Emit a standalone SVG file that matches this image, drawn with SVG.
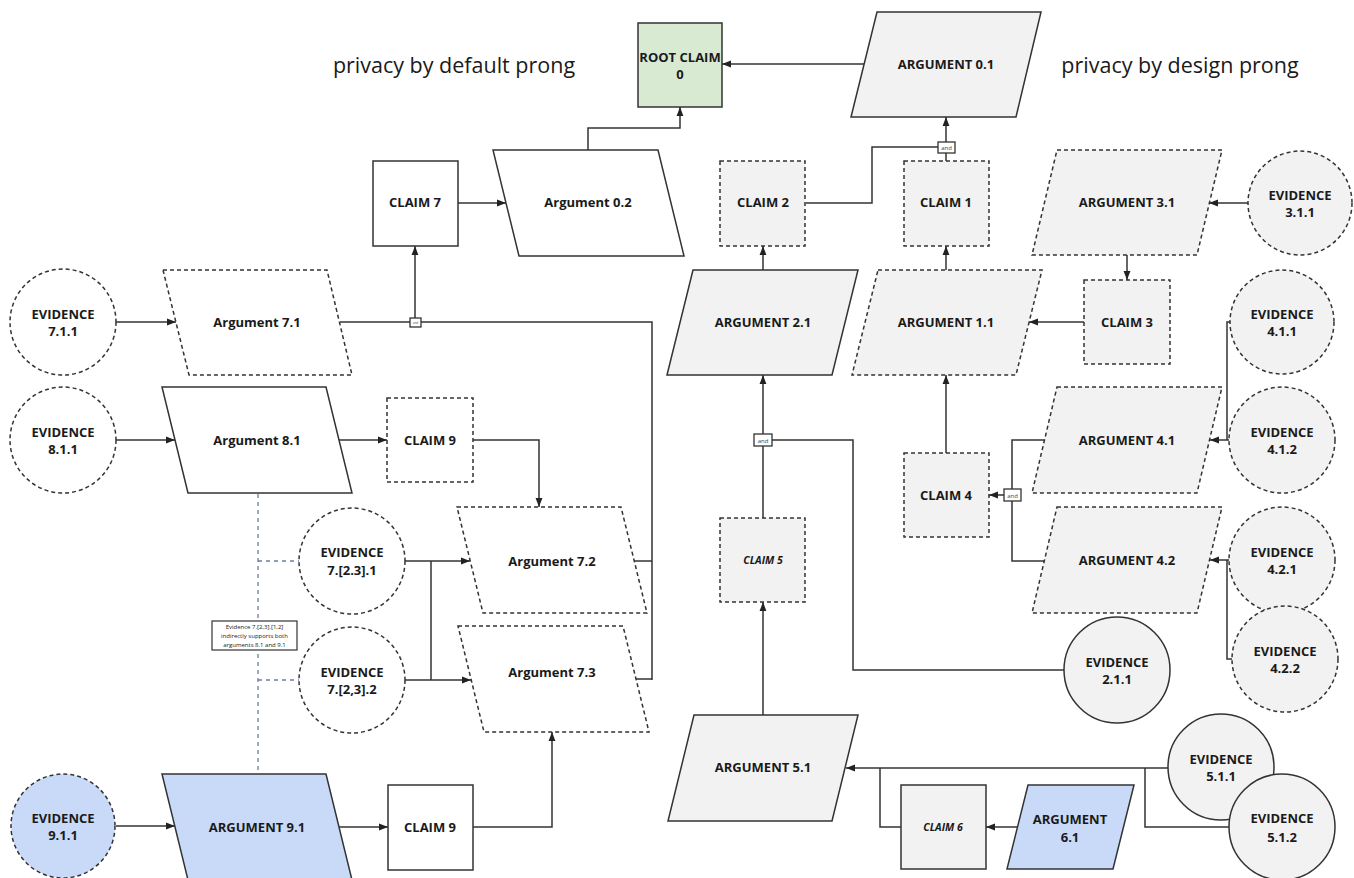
<svg xmlns="http://www.w3.org/2000/svg" width="1354" height="878" viewBox="0 0 1354 878">
<defs>
<marker id="ah" markerUnits="userSpaceOnUse" markerWidth="9" markerHeight="9" viewBox="0 0 10 10" refX="10" refY="5" orient="auto">
<path d="M0,1.2 L10,5 L0,8.8 z" fill="#222"/>
</marker>
<style>
text{font-family:"Open Sans","DejaVu Sans",sans-serif;fill:#1a1a1a;text-anchor:middle}
.l{font-size:13px;font-weight:bold}
.it{font-size:10.5px;font-weight:bold;font-style:italic}
.t{font-size:21.5px;font-weight:normal}
.s{stroke:#333;stroke-width:1.5}
.d{stroke:#333;stroke-width:1.5;stroke-dasharray:4 3}
.w{fill:#fff}
.g{fill:#f2f2f2}
.b{fill:#c9daf8}
.gr{fill:#d9ead3}
.c{fill:none;stroke:#333;stroke-width:1.5}
.a{marker-end:url(#ah)}
.bl{fill:none;stroke:#6c7fa0;stroke-width:1.3;stroke-dasharray:4 4}
.j{fill:#fff;stroke:#333;stroke-width:1.3}
.jt{font-size:6px;fill:#444}
.n{font-size:6px;font-weight:normal}
</style>
</defs>
<rect width="1354" height="878" fill="#fff"/>

<g id="connectors">
<path class="c a" d="M864,64 H722"/>
<path class="c a" d="M588,150 V128 H680 V107"/>
<path class="c a" d="M458,203 H506"/>
<path class="c a" d="M415,318 V246"/>
<path class="c" d="M340,322 H410"/>
<path class="c" d="M421,322 H652 V680"/>
<path class="c" d="M634,561 H652"/>
<path class="c" d="M636,679 H652"/>
<path class="c a" d="M116,322 H176"/>
<path class="c a" d="M116,440 H175"/>
<path class="c a" d="M339,440 H387"/>
<path class="c a" d="M473,440 H539 V507"/>
<path class="c a" d="M405,561 H470"/>
<path class="c a" d="M405,680 H471"/>
<path class="c" d="M431,561 V680"/>
<path class="bl" d="M258,494 V774"/>
<path class="bl" d="M258,561 H299"/>
<path class="bl" d="M258,680 H299"/>
<path class="c a" d="M116,826 H175"/>
<path class="c a" d="M339,827 H388"/>
<path class="c a" d="M473,827 H552 V732"/>
<path class="c" d="M806,203 H872 V147 H938"/>
<path class="c" d="M946,161 V153"/>
<path class="c a" d="M946,142 V117"/>
<path class="c a" d="M763,270 V246"/>
<path class="c a" d="M946,270 V246"/>
<path class="c a" d="M1248,203 H1209"/>
<path class="c a" d="M1127,255 V280"/>
<path class="c a" d="M1084,322 H1029"/>
<path class="c" d="M1230,322 H1227 V440"/>
<path class="c a" d="M1229,440 H1210"/>
<path class="c a" d="M1229,560 H1210"/>
<path class="c" d="M1227,560 V659 H1232"/>
<path class="c" d="M1045,440 H1012 V561 H1045"/>
<path class="c a" d="M1004,495 H989"/>
<path class="c a" d="M946,453 V375"/>
<path class="c" d="M763,518 V446"/>
<path class="c a" d="M763,434 V375"/>
<path class="c" d="M772,440 H853 V670 H1064"/>
<path class="c a" d="M763,715 V602"/>
<path class="c a" d="M1168,768 H846"/>
<path class="c" d="M880,768 V827 H901"/>
<path class="c a" d="M1017,827 H986"/>
<path class="c" d="M1145,768 V827 H1229"/>
<rect class="j" x="938" y="142" width="17" height="11"/>
<text class="jt" x="946.5" y="150">and</text>
<rect class="j" x="754" y="434" width="18" height="12"/>
<text class="jt" x="763" y="442.5">and</text>
<rect class="j" x="1004" y="489" width="17" height="12"/>
<text class="jt" x="1012.5" y="497.5">and</text>
<rect class="j" x="410" y="318" width="11" height="9"/>
<text class="jt" x="415.5" y="323.5" style="font-size:3px">and</text>
</g>

<g id="title-default"><text class="t" x="454" y="73">privacy by default prong</text></g>
<g id="title-design"><text class="t" x="1180" y="73">privacy by design prong</text></g>

<g id="root"><rect class="s gr" x="638" y="23" width="84" height="84"/><text class="l" x="680" y="62">ROOT CLAIM</text><text class="l" x="680" y="79">0</text></g>
<g id="arg01"><polygon class="s g" points="877,12 1041,12 1016,117 851,117"/><text class="l" x="946" y="69">ARGUMENT 0.1</text></g>
<g id="arg02"><polygon class="s w" points="493,150 658,150 684,256 519,256"/><text class="l" x="588" y="207">Argument 0.2</text></g>
<g id="claim7"><rect class="s w" x="373" y="161" width="85" height="85"/><text class="l" x="415" y="207">CLAIM 7</text></g>
<g id="claim2"><rect class="d g" x="720" y="161" width="85" height="85"/><text class="l" x="763" y="207">CLAIM 2</text></g>
<g id="claim1"><rect class="d g" x="904" y="161" width="85" height="85"/><text class="l" x="946" y="207">CLAIM 1</text></g>
<g id="arg31"><polygon class="d g" points="1057,150 1222,150 1197,255 1032,255"/><text class="l" x="1127" y="207">ARGUMENT 3.1</text></g>
<g id="ev311"><circle class="d g" cx="1300" cy="203" r="52"/><text class="l" x="1300" y="199.5">EVIDENCE</text><text class="l" x="1300" y="216.5">3.1.1</text></g>
<g id="arg21"><polygon class="s g" points="693,270 858,270 832,375 667,375"/><text class="l" x="763" y="327">ARGUMENT 2.1</text></g>
<g id="arg11"><polygon class="d g" points="878,270 1042,270 1016,375 852,375"/><text class="l" x="946" y="327">ARGUMENT 1.1</text></g>
<g id="claim3"><rect class="d g" x="1084" y="280" width="86" height="84"/><text class="l" x="1127" y="326.5">CLAIM 3</text></g>
<g id="ev411"><circle class="d g" cx="1282" cy="322" r="52"/><text class="l" x="1282" y="318.5">EVIDENCE</text><text class="l" x="1282" y="335.5">4.1.1</text></g>
<g id="ev412"><circle class="d g" cx="1282" cy="440" r="53"/><text class="l" x="1282" y="436.5">EVIDENCE</text><text class="l" x="1282" y="453.5">4.1.2</text></g>
<g id="arg41"><polygon class="d g" points="1057,387 1222,387 1197,493 1032,493"/><text class="l" x="1127" y="445">ARGUMENT 4.1</text></g>
<g id="arg42"><polygon class="d g" points="1057,507 1222,507 1197,613 1032,613"/><text class="l" x="1127" y="565">ARGUMENT 4.2</text></g>
<g id="ev421"><circle class="d g" cx="1282" cy="560" r="53"/><text class="l" x="1282" y="556.5">EVIDENCE</text><text class="l" x="1282" y="573.5">4.2.1</text></g>
<g id="ev422"><circle class="d g" cx="1285" cy="659" r="53"/><text class="l" x="1285" y="655.5">EVIDENCE</text><text class="l" x="1285" y="672.5">4.2.2</text></g>
<g id="claim4"><rect class="d g" x="904" y="453" width="85" height="84"/><text class="l" x="946" y="500">CLAIM 4</text></g>
<g id="claim5"><rect class="d g" x="720" y="518" width="85" height="84"/><text class="it" x="763" y="564">CLAIM 5</text></g>
<g id="ev211"><circle class="s g" cx="1117" cy="670" r="53"/><text class="l" x="1117" y="666.5">EVIDENCE</text><text class="l" x="1117" y="683.5">2.1.1</text></g>
<g id="arg51"><polygon class="s g" points="694,715 858,715 832,821 668,821"/><text class="l" x="763" y="772">ARGUMENT 5.1</text></g>
<g id="claim6"><rect class="s g" x="901" y="785" width="85" height="84"/><text class="it" x="943" y="831">CLAIM 6</text></g>
<g id="arg61"><polygon class="s b" points="1028,785 1134,785 1113,869 1007,869"/><text class="l" x="1070" y="823.5">ARGUMENT</text><text class="l" x="1070" y="841.5">6.1</text></g>
<g id="ev511"><circle class="s g" cx="1221" cy="767" r="53"/><text class="l" x="1221" y="763.5">EVIDENCE</text><text class="l" x="1221" y="780.5">5.1.1</text></g>
<g id="ev512"><circle class="s g" cx="1282" cy="827" r="53"/><text class="l" x="1282" y="823">EVIDENCE</text><text class="l" x="1282" y="841.5">5.1.2</text></g>
<g id="ev711"><circle class="d w" cx="63" cy="322" r="53"/><text class="l" x="63" y="318.5">EVIDENCE</text><text class="l" x="63" y="335.5">7.1.1</text></g>
<g id="arg71"><polygon class="d w" points="163,270 327,270 352,375 189,375"/><text class="l" x="257" y="326.5">Argument 7.1</text></g>
<g id="ev811"><circle class="d w" cx="63" cy="440" r="53"/><text class="l" x="63" y="436.5">EVIDENCE</text><text class="l" x="63" y="453.5">8.1.1</text></g>
<g id="arg81"><polygon class="s w" points="162,387 326,387 352,493 188,493"/><text class="l" x="257" y="445">Argument 8.1</text></g>
<g id="claim9a"><rect class="d w" x="387" y="398" width="86" height="84"/><text class="l" x="430" y="444.5">CLAIM 9</text></g>
<g id="ev7231"><circle class="d w" cx="352" cy="561" r="53"/><text class="l" x="352" y="557">EVIDENCE</text><text class="l" x="352" y="574.5">7.[2.3].1</text></g>
<g id="ev7232"><circle class="d w" cx="352" cy="680" r="53"/><text class="l" x="352" y="676.5">EVIDENCE</text><text class="l" x="352" y="693.5">7.[2,3].2</text></g>
<g id="arg72"><polygon class="d w" points="457,507 621,507 647,613 483,613"/><text class="l" x="552" y="565.5">Argument 7.2</text></g>
<g id="arg73"><polygon class="d w" points="458,626 623,626 649,732 484,732"/><text class="l" x="552" y="676.5">Argument 7.3</text></g>
<g id="note"><rect x="212" y="621" width="85" height="29" fill="#fff" stroke="#333" stroke-width="1.2"/><text class="n" x="254.5" y="629">Evidence 7.[2,3].[1,2]</text><text class="n" x="254.5" y="638">indirectly supports both</text><text class="n" x="254.5" y="647">arguments 8.1 and 9.1</text></g>
<g id="ev911"><circle class="d b" cx="63" cy="826" r="52"/><text class="l" x="63" y="822.5">EVIDENCE</text><text class="l" x="63" y="839.5">9.1.1</text></g>
<g id="arg91"><polygon class="s b" points="162,774 326,774 352,880 188,880"/><text class="l" x="257" y="832">ARGUMENT 9.1</text></g>
<g id="claim9b"><rect class="s w" x="388" y="785" width="85" height="85"/><text class="l" x="430" y="832">CLAIM 9</text></g>
</svg>
